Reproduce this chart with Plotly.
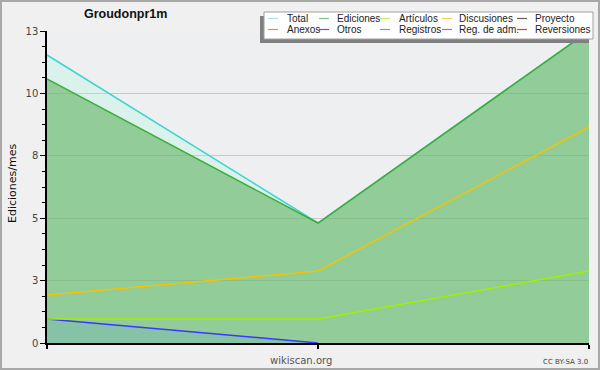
import plotly.graph_objects as go

# ---- data ----
months = [0, 1, 2]
total = [12, 5, 13]
ediciones = [11, 5, 13]
articulos = [1, 1, 3]
discusiones = [2, 3, 9]
registros = [1, 0, None]

ytickvals = [0, 2.6, 5.2, 7.8, 10.4, 13]
yticktext = ["0", "3", "5", "8", "10", "13"]

legend_names = [["Total", "Ediciones", "Artículos", "Discusiones", "Proyecto"],
                ["Anexos", "Otros", "Registros", "Reg. de adm.", "Reversiones"]]
legend_colors = [["#a8e4e0", "#80c888", "#c8ec70", "#f8cc58", "#606060"],
                 ["#f08850", "#8848c8", "#8888f0", "#d850d8", "#e83838"]]

W, H = 600, 370
L, R, T, B = 47, 11, 31, 27
PW, PH = W - L - R, H - T - B
SANS = "Liberation Sans, Arial, sans-serif"


def px(x):
    return (x - L) / PW


def py(y):
    return (H - B - y) / PH


fig = go.Figure()
fig.add_trace(go.Scatter(x=months, y=total, mode="lines", fill="tozeroy",
                         fillcolor="rgba(158,251,221,0.25)",
                         line=dict(color="#40d4d0", width=1.5), showlegend=False))
fig.add_trace(go.Scatter(x=months, y=ediciones, mode="lines", fill="tozeroy",
                         fillcolor="rgba(98,179,96,0.6)",
                         line=dict(color="#3cae3c", width=1.5), showlegend=False))
fig.add_trace(go.Scatter(x=months, y=registros, mode="lines", fill="tozeroy",
                         fillcolor="rgba(98,164,204,0.25)",
                         line=dict(color="#3838ff", width=1.5), showlegend=False))
fig.add_trace(go.Scatter(x=months, y=articulos, mode="lines",
                         line=dict(color="#a0f000", width=1.5), showlegend=False))
fig.add_trace(go.Scatter(x=months, y=discusiones, mode="lines",
                         line=dict(color="#f4c400", width=1.5), showlegend=False))

shapes = []
annotations = []
# outer border
shapes.append(dict(type="rect", xref="paper", yref="paper",
                   x0=px(1), x1=px(W - 1), y0=py(1), y1=py(H - 1),
                   line=dict(color="#a8a8a8", width=2), layer="below"))
# legend box with shadow
bx0, bx1, by0, by1 = 264, 593, 12, 39
shapes.append(dict(type="rect", xref="paper", yref="paper",
                   x0=px(bx0 - 4), x1=px(bx1 - 4), y0=py(by0 + 4), y1=py(by1 + 4),
                   fillcolor="#808080", line=dict(width=0), layer="above"))
shapes.append(dict(type="rect", xref="paper", yref="paper",
                   x0=px(bx0), x1=px(bx1), y0=py(by0), y1=py(by1),
                   fillcolor="#ffffff", line=dict(color="#a0a0a0", width=1), layer="above"))
col_line_x = [268, 319, 380, 442, 517]
col_text_x = [285, 335, 397, 457, 533]
row_y = [18.5, 29.5]
for r in range(2):
    for c in range(5):
        shapes.append(dict(type="line", xref="paper", yref="paper",
                           x0=px(col_line_x[c]), x1=px(col_line_x[c] + 10),
                           y0=py(row_y[r]), y1=py(row_y[r]),
                           line=dict(color=legend_colors[r][c], width=1.2), layer="above"))
        annotations.append(dict(xref="paper", yref="paper", x=px(col_text_x[c]), y=py(row_y[r]),
                                text=legend_names[r][c], showarrow=False,
                                xanchor="left", yanchor="middle",
                                font=dict(family=SANS, size=10, color="#222222")))

# title
annotations.append(dict(xref="paper", yref="paper", x=px(125), y=py(14),
                        text="<b>Groudonpr1m</b>", showarrow=False,
                        xanchor="center", yanchor="middle",
                        font=dict(family=SANS, size=12.5, color="#111111")))
# y title
annotations.append(dict(xref="paper", yref="paper", x=px(12), y=py(184),
                        text="Ediciones/mes", showarrow=False, textangle=-90,
                        xanchor="center", yanchor="middle",
                        font=dict(family="DejaVu Sans", size=11, color="#111111")))
annotations.append(dict(xref="paper", yref="paper", x=px(301), y=py(360),
                        text="wikiscan.org", showarrow=False,
                        xanchor="center", yanchor="middle",
                        font=dict(family="DejaVu Sans", size=10, color="#555555")))
annotations.append(dict(xref="paper", yref="paper", x=px(590), y=py(362),
                        text="CC BY-SA 3.0", showarrow=False,
                        xanchor="right", yanchor="middle",
                        font=dict(family="DejaVu Sans", size=7, color="#444444")))

fig.update_layout(
    width=W, height=H,
    margin=dict(l=L, r=R, t=T, b=B, pad=0),
    paper_bgcolor="#f0f0f0", plot_bgcolor="#eeeff1",
    showlegend=False,
    shapes=shapes, annotations=annotations,
    font=dict(family="DejaVu Sans", size=10, color="#444444"),
)
fig.update_xaxes(range=[0, 2], tickvals=months, ticktext=["", "", ""],
                 ticks="outside", ticklen=4, tickcolor="#000", tickwidth=1.5,
                 showline=True, linecolor="#000", linewidth=1.5,
                 showgrid=False, zeroline=False, fixedrange=True)
fig.update_yaxes(range=[0, 13], tickvals=ytickvals, ticktext=yticktext,
                 ticks="outside", ticklen=5, tickcolor="#000", tickwidth=1,
                 showline=True, linecolor="#000", linewidth=1.5,
                 showgrid=True, gridcolor="#c8c8c8", gridwidth=1,
                 zeroline=False, fixedrange=True,
                 tickfont=dict(family="DejaVu Sans", size=10, color="#444444"),
                 minor=dict(tickvals=[0.65 + 1.3 * i for i in range(10)] + [1.3 * i for i in range(1, 10) if i % 2 == 1],
                            ticks="outside", ticklen=3, tickcolor="#000", showgrid=False))

fig.write_html("out.html")
